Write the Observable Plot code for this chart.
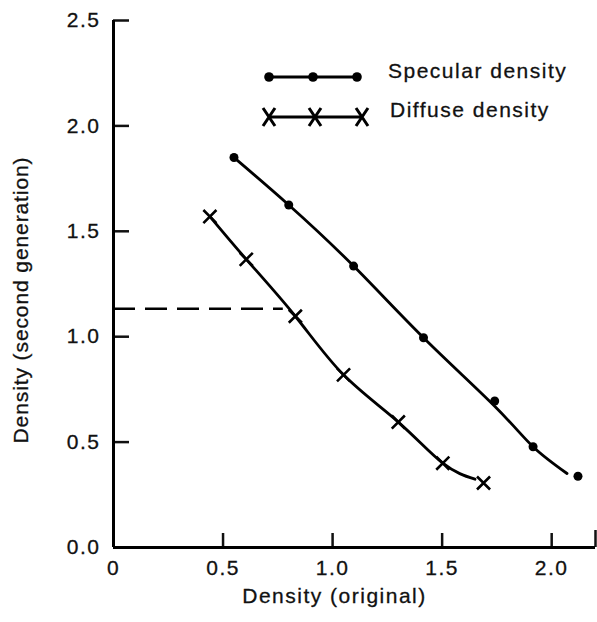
<!DOCTYPE html>
<html><head><meta charset="utf-8">
<script src="https://cdn.jsdelivr.net/npm/d3@7"></script>
<script src="https://cdn.jsdelivr.net/npm/@observablehq/plot@0.6"></script>
<style>
html,body{margin:0;padding:0;background:#fff;}
#wrap{position:relative;width:597px;height:622px;}
#wrap svg text{letter-spacing:1.5px;stroke:#111;stroke-width:0.3px;}
#wrap svg text.ylab{letter-spacing:0.9px;}
</style></head><body><div id="wrap"></div>
<script>
// measured points
const specularX = [0.55, 0.80, 1.096, 1.415, 1.74, 1.915, 2.12];
const specularY = [1.85, 1.625, 1.335, 0.995, 0.695, 0.478, 0.338];
const diffuseX = [0.44, 0.606, 0.83, 1.05, 1.30, 1.503, 1.689];
const diffuseY = [1.57, 1.367, 1.097, 0.819, 0.595, 0.40, 0.306];
// hand-drawn fitted curves
const specularCurveX = [0.55, 0.80, 1.096, 1.415, 1.74, 1.915, 2.07];
const specularCurveY = [1.85, 1.625, 1.335, 0.995, 0.67, 0.478, 0.351];
const diffuseCurveX = [0.44, 0.606, 0.83, 1.05, 1.30, 1.503, 1.65];
const diffuseCurveY = [1.57, 1.367, 1.097, 0.819, 0.595, 0.40, 0.324];
// dashed reading line
const refY = [1.133];
const refXEnd = 0.775;
const xTicks = [0, 0.5, 1.0, 1.5, 2.0];
const xTickLabels = ["0", "0.5", "1.0", "1.5", "2.0"];
const xEnd = 2.2;
const yTicks = [0, 0.5, 1.0, 1.5, 2.0, 2.5];
const yTickLabels = ["0.0", "0.5", "1.0", "1.5", "2.0", "2.5"];
const seriesNames = ["Specular density", "Diffuse density"];
const xLabel = "Density (original)";
const yLabel = "Density (second generation)";

const font = "'Liberation Sans', Arial, Helvetica, sans-serif";
const zip = (xs, ys) => xs.map((x, i) => ({x, y: ys[i]}));

const chart = Plot.plot({
  width: 597, height: 622,
  marginLeft: 113, marginRight: 2, marginTop: 20, marginBottom: 75,
  style: {fontFamily: font, fontSize: "21px", color: "#111", background: "#fff"},
  x: {domain: [0, xEnd]},
  y: {domain: [0, 2.5]},
  marks: [
    Plot.axisX(xTicks, {tickSize: 0, tickPadding: 13, tickFormat: d => xTickLabels[xTicks.indexOf(d)], label: null, fontSize: 21}),
    Plot.axisX(xTicks.slice(1), {tickSize: -14, tickFormat: () => "", label: null, strokeWidth: 2.5}),
    Plot.axisX([xEnd], {tickSize: -17, tickFormat: () => "", label: null, strokeWidth: 2.5}),
    Plot.axisY(yTicks, {tickSize: 0, tickPadding: 13, tickFormat: d => yTickLabels[yTicks.indexOf(d)], label: null, fontSize: 21}),
    Plot.axisY(yTicks.slice(1), {tickSize: -16, tickFormat: () => "", label: null, strokeWidth: 2.5}),
    Plot.ruleX([0], {strokeWidth: 3, stroke: "#000"}),
    Plot.ruleY([0], {strokeWidth: 3, stroke: "#000"}),
    Plot.ruleY(refY, {x1: 0, x2: refXEnd, strokeWidth: 2.5, stroke: "#000", strokeDasharray: "22,10"}),
    Plot.line(zip(specularCurveX, specularCurveY), {x: "x", y: "y", curve: "natural", strokeWidth: 2.8, stroke: "#000"}),
    Plot.line(zip(diffuseCurveX, diffuseCurveY), {x: "x", y: "y", curve: "natural", strokeWidth: 2.8, stroke: "#000"}),
    Plot.dot(zip(specularX, specularY), {x: "x", y: "y", r: 4.5, fill: "#000", stroke: null}),
    Plot.dot(zip(diffuseX, diffuseY), {x: "x", y: "y", symbol: "times", r: 6, stroke: "#000", strokeWidth: 2.6}),
    Plot.text([xLabel], {frameAnchor: "bottom", textAnchor: "middle", dx: -20, dy: 55, fontSize: 21, fill: "#111"}),
    Plot.text([yLabel], {frameAnchor: "left", textAnchor: "middle", rotate: -90, dx: -92, dy: 16, fontSize: 21, fill: "#111", className: "ylabmark"})
  ]
});
document.getElementById("wrap").appendChild(chart);
d3.select(chart).selectAll("g.ylabmark text").classed("ylab", true);

// legend overlay
const leg = d3.select("#wrap").append("svg")
  .attr("width", 597).attr("height", 622)
  .style("position", "absolute").style("left", "0px").style("top", "0px")
  .style("pointer-events", "none")
  .style("font-family", font).style("font-size", "21px");
// specular
const g1 = leg.append("g");
g1.append("line").attr("x1", 269).attr("x2", 357).attr("y1", 77).attr("y2", 77).attr("stroke", "#000").attr("stroke-width", 2.8);
[269, 313, 357].forEach(cx => g1.append("circle").attr("cx", cx).attr("cy", 77).attr("r", 4.8).attr("fill", "#000"));
g1.append("text").attr("x", 388).attr("y", 78).attr("fill", "#111").text(seriesNames[0]);
// diffuse
const g2 = leg.append("g");
g2.append("line").attr("x1", 269).attr("x2", 362).attr("y1", 117).attr("y2", 117).attr("stroke", "#000").attr("stroke-width", 2.8);
[269, 315, 362].forEach(cx => g2.append("path")
  .attr("d", `M${cx-6},${117-9}L${cx+6},${117+9}M${cx+6},${117-9}L${cx-6},${117+9}`)
  .attr("stroke", "#000").attr("stroke-width", 3).attr("fill", "none"));
g2.append("text").attr("x", 390).attr("y", 117).attr("fill", "#111").text(seriesNames[1]);
</script></body></html>
